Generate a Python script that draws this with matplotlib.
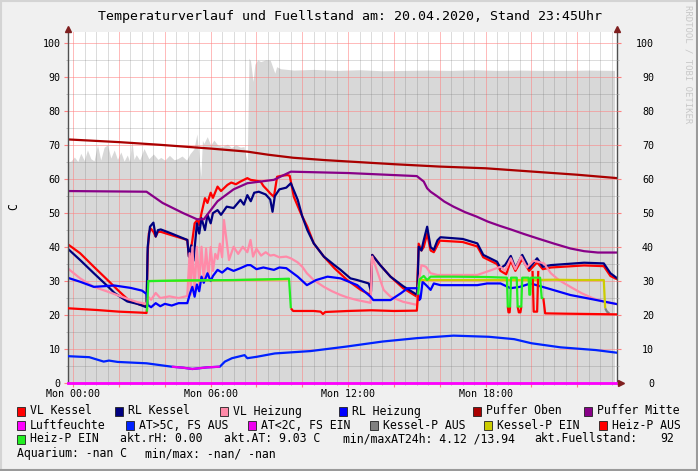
import matplotlib
matplotlib.use('Agg')  # kein GUI
import matplotlib.pyplot as plt
import numpy as np
from matplotlib.patches import Rectangle
from matplotlib.lines import Line2D
from matplotlib.ticker import MultipleLocator

# Zeitachse in Stunden (Mon 00:00 = 0), Werte in C bzw. %
fuel_t = [-0.25, -0.1, 0.05, 0.2, 0.33, 0.48, 0.62, 0.77, 0.91, 1.06,
          1.2, 1.35, 1.5, 1.64, 1.79, 1.93, 2.08, 2.22, 2.36, 2.46,
          2.56, 2.65, 2.75, 2.9, 3.09, 3.3, 3.5, 3.7, 3.82, 4.0,
          4.2, 4.4, 4.55, 4.75, 4.95, 5.1, 5.27, 5.4, 5.49, 5.57,
          5.64, 5.7, 5.85, 6.0, 6.14, 6.3, 6.5, 6.73, 6.9, 7.1,
          7.3, 7.45, 7.6, 7.67, 7.74, 7.85, 7.93, 8.05, 8.18, 8.4,
          8.6, 8.8, 8.88, 9.05, 9.63, 10.5, 11.5, 12.5, 13.5, 14.5,
          15.5, 16.5, 17.5, 18.5, 19.5, 20.5, 21.5, 22.5, 23.63]
fuel_v = [65.1, 65.3, 66.5, 65.2, 67.6, 65.5, 68.6, 66.0, 65.4, 70.1,
          65.6, 69.4, 70.1, 66.2, 68.6, 65.8, 68.0, 65.3, 67.1, 65.2,
          71.5, 65.8, 67.2, 65.6, 69.0, 66.0, 67.4, 65.8, 66.4, 65.6,
          67.0, 65.7, 66.0, 66.8, 65.6, 67.5, 68.9, 73.3, 66.5, 60.7,
          71.5, 70.5, 72.5, 70.0, 71.5, 70.1, 69.6, 70.3, 69.3, 70.1,
          69.4, 69.6, 64.7, 95.6, 94.8, 88.7, 93.8, 95.1, 94.6, 95.1,
          95.0, 91.2, 93.1, 92.5, 92.1, 92.3, 92.0, 92.2, 91.9, 92.0,
          92.1, 92.0, 92.2, 92.0, 92.1, 92.0, 92.0, 92.1, 92.0]

vlk_t = [-0.25, 0.3, 0.9, 1.5, 2.0, 2.4, 2.8, 3.2, 3.25, 3.3, 3.38, 3.5, 3.6, 3.7,
         3.82, 4.25, 4.98, 5.05, 5.13, 5.2, 5.3, 5.42, 5.5, 5.6, 5.75, 5.86, 6.0,
         6.1, 6.3, 6.45, 6.73, 6.9, 7.1, 7.3, 7.6, 7.74, 8.0, 8.18, 8.3, 8.47, 8.6,
         8.76, 8.9, 9.1, 9.35, 9.45, 9.63, 9.93, 10.22, 10.5, 10.94, 11.4, 11.96,
         12.55, 12.98, 13.05, 13.4, 13.85, 14.4, 15.0, 15.08, 15.2, 15.3, 15.45,
         15.6, 15.74, 16.0, 17.0, 17.64, 17.9, 18.5, 18.65, 18.9, 19.1, 19.3, 19.6,
         19.9, 20.25, 20.5, 20.85, 22.3, 23.16, 23.45, 23.75]
vlk_v = [40.9, 38.2, 34.2, 30.3, 27.0, 24.5, 23.3, 22.5, 38.0, 44.0, 45.5, 44.5, 43.1, 44.5,
         44.5, 43.6, 42.1, 37.2, 39.0, 42.0, 47.0, 48.0, 46.5, 50.0, 54.4, 53.0, 56.0,
         54.5, 57.8, 56.5, 58.3, 59.0, 58.5, 59.3, 60.3, 59.8, 59.5, 59.3, 58.0, 56.8, 55.8,
         54.8, 60.7, 61.0, 61.2, 61.0, 54.8, 50.0, 46.0, 41.1, 37.2, 33.8, 30.3,
         27.4, 25.9, 37.7, 34.7, 31.3, 27.9, 25.4, 41.0, 39.0, 40.0, 44.0,
         39.0, 38.5, 41.9, 41.5, 40.2, 37.0, 35.0, 33.0, 32.0, 36.0, 33.0, 36.5,
         33.0, 35.5, 33.5, 34.0, 34.6, 34.4, 31.5, 30.5]

rlk_t = [-0.25, 0.3, 0.9, 1.5, 1.8, 2.36, 2.8, 3.2, 3.25, 3.35, 3.5, 3.6, 3.7, 3.82,
         4.25, 4.98, 5.05, 5.15, 5.25, 5.4, 5.5, 5.6, 5.75, 5.86, 6.0, 6.1, 6.3, 6.45,
         6.7, 7.0, 7.3, 7.45, 7.6, 7.75, 7.9, 8.1, 8.4, 8.6, 8.7, 8.8, 9.0, 9.3, 9.5,
         9.8, 10.0, 10.22, 10.5, 10.94, 11.4, 11.67, 12.1, 12.4, 12.9, 13.0, 13.05,
         13.4, 13.85, 14.4, 15.02, 15.08, 15.2, 15.3, 15.45, 15.6, 15.74, 15.9, 16.03,
         17.0, 17.64, 17.9, 18.5, 18.65, 18.85, 19.1, 19.3, 19.6, 19.9, 20.25, 20.5,
         20.85, 22.3, 23.16, 23.45, 23.75]
rlk_v = [39.6, 36.2, 32.3, 28.5, 26.5, 24.0, 23.3, 22.3, 40.0, 46.0, 47.2, 43.1, 45.0, 45.2,
         44.1, 42.1, 37.2, 40.5, 36.0, 47.0, 44.0, 48.5, 45.0, 49.5, 47.0, 50.0, 50.9, 49.5,
         51.9, 51.5, 53.9, 52.5, 55.3, 53.5, 56.0, 56.3, 55.5, 54.0, 50.4, 55.0, 57.0, 57.5, 58.8,
         53.9, 49.0, 45.0, 41.1, 37.2, 34.7, 33.3, 30.8, 30.3, 29.3, 27.0, 37.7,
         34.7, 31.3, 28.5, 25.9, 40.1, 39.0, 42.0, 46.0, 40.0, 39.2, 42.0, 42.9,
         42.4, 41.1, 37.7, 35.7, 33.8, 34.7, 37.4, 33.8, 37.7, 33.8, 36.7, 34.2,
         34.7, 35.4, 35.2, 32.3, 30.8]

vlh_t = [-0.25, 0.3, 0.9, 1.5, 2.36, 2.8, 3.2, 3.25, 3.4, 3.6, 3.8, 4.2, 4.6, 4.98,
         5.08, 5.13, 5.2, 5.3, 5.4, 5.5, 5.6, 5.7, 5.8, 5.9, 6.0, 6.1, 6.2, 6.3, 6.4,
         6.5, 6.58, 6.8, 7.0, 7.2, 7.4, 7.6, 7.74, 7.85, 8.0, 8.2, 8.4, 8.6, 8.76,
         9.0, 9.3, 9.5, 9.8, 10.0, 10.2, 10.5, 10.94, 11.3, 11.67, 12.0, 12.4, 12.98, 13.05, 13.3, 13.55,
         13.85, 14.4, 15.0, 15.1, 15.2, 15.4, 15.6, 15.9, 17.64, 18.07, 18.65, 18.85,
         19.1, 19.3, 19.55, 19.8, 20.1, 20.55, 20.85, 21.2, 21.7, 22.2, 22.7, 23.2, 23.75]
vlh_v = [33.8, 30.8, 28.3, 26.9, 24.8, 23.8, 23.3, 25.5, 24.5, 26.5, 25.0, 25.5, 25.0, 25.6,
         38.2, 26.0, 40.0, 27.4, 40.1, 29.0, 40.1, 30.0, 39.5, 31.0, 40.0, 33.0, 38.0, 36.5, 41.0,
         37.0, 48.0, 36.2, 40.1, 38.0, 40.1, 38.5, 42.1, 37.2, 39.5, 37.5, 38.5, 37.5, 37.7,
         37.0, 37.2, 36.7, 35.5, 34.2, 32.3, 30.3, 28.3, 27.0, 25.9, 25.1, 24.4, 23.6, 37.2, 32.3, 27.4,
         25.4, 23.9, 23.0, 30.3, 34.7, 34.2, 32.3, 31.8, 31.8, 32.8, 34.2, 33.0,
         36.7, 33.5, 37.2, 34.0, 36.0, 35.2, 32.3, 30.3, 28.3, 26.4, 24.9, 23.9, 23.2]

rlh_t = [-0.25, 0.3, 0.9, 1.8, 2.5, 3.0, 3.2, 3.25, 3.4, 3.6, 3.8, 4.0, 4.3, 4.6, 4.98,
         5.1, 5.2, 5.3, 5.4, 5.5, 5.6, 5.7, 5.86, 6.0, 6.1, 6.3, 6.5, 6.73, 7.0, 7.3,
         7.6, 7.74, 8.0, 8.3, 8.76, 9.0, 9.3, 9.5, 9.8, 10.2, 10.6, 11.1, 11.67, 12.4,
         12.98, 13.1, 13.85, 14.3, 14.6, 15.02, 15.1, 15.16, 15.25, 15.45, 15.6, 15.74,
         16.03, 17.64, 18.07, 18.65, 19.09, 19.5, 19.96, 20.69, 21.7, 22.7, 23.75]
rlh_v = [31.0, 29.8, 28.3, 28.7, 28.0, 27.2, 26.2, 23.0, 22.3, 23.5, 22.6, 23.3, 22.8, 23.5, 23.5,
         26.4, 28.3, 25.4, 29.0, 27.0, 31.3, 29.5, 32.3, 30.0, 31.5, 33.3, 32.5, 33.8, 33.0, 33.8,
         34.7, 34.7, 33.5, 34.0, 33.3, 34.0, 33.8, 32.8, 31.3, 28.8, 30.3, 31.3, 30.8, 28.8,
         25.4, 24.4, 24.4, 26.4, 27.9, 27.9, 24.4, 24.9, 29.8, 28.5, 27.4, 29.3,
         28.8, 28.8, 29.3, 29.3, 27.9, 28.3, 29.3, 27.9, 25.9, 24.6, 23.2]

po_t = [-0.25, 2, 3.8, 6, 7.6, 8.5, 9.6, 11, 12.5, 14, 16, 18, 20.1, 22, 23.75]
po_v = [71.7, 70.9, 70.1, 69.0, 68.1, 67.2, 66.3, 65.6, 65.0, 64.4, 63.7, 63.2, 62.2, 61.3, 60.3]

pm_t = [-0.25, 3.2, 3.9, 4.8, 5.4, 5.7, 6.3, 7.0, 7.6, 8.76, 9.5, 12, 15.0, 15.3, 15.45,
        15.6, 15.9, 16.2, 16.6, 17.1, 17.6, 18.1, 18.6, 19.1, 19.7, 20.25, 21.0, 21.7,
        22.3, 22.9, 23.75]
pm_v = [56.5, 56.3, 53.0, 50.0, 48.2, 48.2, 53.5, 57.0, 58.8, 59.8, 62.2, 61.8, 60.9, 59.3, 57.3,
        56.3, 54.9, 53.4, 51.9, 50.3, 49.0, 47.5, 46.3, 45.2, 43.8, 42.6, 41.0, 39.6,
        38.8, 38.4, 38.4]

rh_t = [-0.25, 23.75]
rh_v = [0.0, 0.0]

at_t = [-0.25, 0.7, 1.33, 1.56, 1.94, 3.2, 3.97, 4.3, 4.8, 5.2, 5.84, 6.4, 6.62, 6.93,
        7.48, 7.6, 8.0, 8.8, 10.36, 11.9, 13.5, 15.0, 16.6, 18.15, 19.25, 20.0, 21.27,
        22.8, 23.75]
at_v = [7.9, 7.6, 6.3, 6.6, 6.2, 5.8, 5.1, 4.8, 4.5, 4.12, 4.6, 4.8, 6.3, 7.3,
        8.2, 7.3, 7.7, 8.7, 9.4, 10.7, 12.2, 13.2, 13.94, 13.6, 12.9, 11.7, 10.5,
        9.7, 8.9]
fs_ein_von, fs_ein_bis = 4.3, 6.4

nan = float('nan')
kp_aus_t = [23.22, 23.3, 23.4]
kp_aus_v = [22.0, 21.0, 20.5]
kp_ein_t = [3.25, 9.45, nan, 15.1, 18.9, 20.0, 21.0, 22.0, 23.16, 23.22]
kp_ein_v = [30.0, 30.5, nan, 30.3, 30.3, 30.3, 30.4, 30.3, 30.3, 22.0]
hp_aus_t = [-0.25, 1.0, 2.0, 3.0, 3.2, 3.22, nan, 9.5, 9.6, 10.5, 10.8, 10.9, 11.0, 12.0,
            13.0, 14.0, 15.0, 15.05, nan, 18.97, 19.0, 19.05, 19.07, nan, 19.4, 19.45,
            19.52, 19.56, nan, 20.05, 20.1, 20.25, 20.3, nan, 20.52, 20.6, 21.5, 23.75]
hp_aus_v = [22.0, 21.5, 21.0, 20.7, 20.6, 22.0, nan, 22.0, 21.2, 21.2, 21.0, 20.3, 20.9, 21.2,
            21.4, 21.2, 21.3, 26.0, nan, 22.5, 20.8, 20.8, 22.5, nan, 22.5, 20.8,
            20.8, 22.5, nan, 33.0, 21.0, 21.0, 33.0, nan, 25.0, 20.5, 20.4, 20.2]
hp_ein_t = [3.22, 3.28, 5.0, 7.0, 9.0, 9.42, 9.5, nan, 15.05, 15.12, 15.3, 15.45, 15.6,
            16.5, 18.0, 18.93, 18.97, 19.07, 19.11, 19.36, 19.4, 19.56, 19.6, 19.88,
            19.91, 19.95, 19.98, 20.38, 20.45, 20.52]
hp_ein_v = [21.0, 30.0, 30.2, 30.3, 30.6, 30.7, 22.0, nan, 26.0, 30.5, 31.5, 30.3, 31.3,
            31.3, 31.2, 31.0, 22.5, 22.5, 31.0, 31.0, 22.5, 22.5, 31.0, 31.0,
            26.0, 26.0, 31.0, 31.0, 25.0, 25.0]

x_major = [0, 2, 4, 6, 8, 10, 12, 14, 16, 18, 20, 22]
x_labels = ['Mon 00:00', '', '', 'Mon 06:00', '', '', 'Mon 12:00', '', '', 'Mon 18:00', '', '']
y_major = [0, 10, 20, 30, 40, 50, 60, 70, 80, 90, 100]

titel = 'Temperaturverlauf und Fuellstand am: 20.04.2020, Stand 23:45Uhr'

legende = [
    [('VL Kessel', '#ff0000'), ('RL Kessel', '#000080'), ('VL Heizung', '#ff8aa8'),
     ('RL Heizung', '#0000ff'), ('Puffer Oben', '#aa0000'), ('Puffer Mitte', '#880088')],
    [('Luftfeuchte', '#ff00ff'), ('AT>5C, FS AUS', '#0022ff'), ('AT<2C, FS EIN', '#ee00ee'),
     ('Kessel-P AUS', '#808080'), ('Kessel-P EIN', '#cccc00'), ('Heiz-P AUS', '#ff0000')],
]
leg_x = [[17, 115, 220, 339, 473, 584], [17, 125.6, 248, 370.4, 484, 599]]
info_texte = [('akt.rH: 0.00', 120), ('akt.AT: 9.03 C', 224),
              ('min/maxAT24h: 4.12 /13.94', 343), ('akt.Fuellstand:', 534), ('92', 660)]

plt.rcParams['font.family'] = 'DejaVu Sans Mono'

W, H = 698, 471
fig = plt.figure(figsize=(W / 100, H / 100), dpi=100, facecolor='#f0f0f0')
ax = fig.add_axes([67.5 / W, 1 - 383 / H, (617.3 - 67.5) / W, (383 - 31.7) / H])
ax.set_facecolor('white')
ax.set_xlim(-0.25, 23.75)
ax.set_ylim(0, 103.4)

ax.fill_between(fuel_t, fuel_v, 0, color='#d8d8d8', lw=0, zorder=1)

lw = 1.6
kw = dict(lw=lw, solid_joinstyle='round', solid_capstyle='butt')
ax.plot(vlk_t, vlk_v, color='#ff0000', zorder=2.0, **kw)
ax.plot(rlk_t, rlk_v, color='#000080', zorder=2.1, **kw)
ax.plot(vlh_t, vlh_v, color='#ff8aa8', zorder=2.2, **kw)
ax.plot(rlh_t, rlh_v, color='#0000ff', zorder=2.3, **kw)
ax.plot(po_t, po_v, color='#aa0000', zorder=2.4, **kw)
ax.plot(pm_t, pm_v, color='#880088', zorder=2.5, **kw)
ax.plot(rh_t, rh_v, color='#ff00ff', zorder=3.5, clip_on=False, lw=2)

at_t_a = np.array(at_t)
at_v_a = np.array(at_v)
kalt = (at_t_a >= fs_ein_von) & (at_t_a <= fs_ein_bis)
ax.plot(at_t_a, at_v_a, color='#0022ff', zorder=2.6, **kw)
ax.plot(at_t_a[kalt], at_v_a[kalt], color='#ee00ee', zorder=2.7, **kw)

ax.plot(kp_aus_t, kp_aus_v, color='#808080', zorder=2.8, **kw)
ax.plot(kp_ein_t, kp_ein_v, color='#cccc00', zorder=2.9, **kw)
ax.plot(hp_aus_t, hp_aus_v, color='#ff0000', zorder=3.0, **kw)
ax.plot(hp_ein_t, hp_ein_v, color='#22ee22', zorder=3.1, **kw)

# Raster wie rrdtool
ax.set_xticks(x_major, x_labels)
ax.xaxis.set_minor_locator(MultipleLocator(0.5))
ax.set_yticks(y_major, [str(v) for v in y_major])
ax.yaxis.set_minor_locator(MultipleLocator(5))
ax.grid(which='major', color='#ff8080', alpha=0.55, lw=0.7)
ax.grid(which='minor', color='#707070', alpha=0.25, lw=0.7)
ax.set_axisbelow('line')
ax.tick_params(which='major', length=3, color='#ff8080', labelsize=7.2, pad=2)
ax.tick_params(which='minor', length=1.5, color='#b0b0b0')
ax.tick_params(axis='x', which='major', pad=1.3)
ax.spines['top'].set_visible(False)
for s in ['left', 'right', 'bottom']:
    ax.spines[s].set_color('#505050')
    ax.spines[s].set_linewidth(1)

ax2 = ax.twinx()
ax2.set_ylim(ax.get_ylim())
ax2.set_yticks(y_major, [str(v) for v in y_major], ha='right')
ax2.yaxis.set_minor_locator(MultipleLocator(5))
ax2.tick_params(which='major', length=3, color='#ff8080', labelsize=7.2, pad=23.4)
ax2.tick_params(which='minor', length=1.5, color='#b0b0b0')
for s in ax2.spines.values():
    s.set_visible(False)

# Pfeile an den Achsen
pfeil = dict(ls='none', color='#7f1f1f', ms=5, transform=fig.transFigure, clip_on=False)
fig.add_artist(Line2D([67.7 / W], [1 - 28.5 / H], marker='^', **pfeil))
fig.add_artist(Line2D([617.3 / W], [1 - 28.5 / H], marker='^', **pfeil))
fig.add_artist(Line2D([620.5 / W], [1 - 383 / H], marker='>', **pfeil))

fig.text(350 / W, 1 - 16.5 / H, titel, ha='center', va='center', fontsize=9.5)
fig.text(14 / W, 1 - 207 / H, 'C', rotation=90, ha='center', va='center', fontsize=8.3)
fig.text(688 / W, 1 - 5 / H, 'RRDTOOL / TOBI OETIKER', rotation=270, ha='center', va='top',
         fontsize=6.5, color='#c8c8c8')

# Legende
zeilen_y = [411, 425.3, 439, 453.7]


def swatch(x, y, farbe):
    fig.add_artist(Rectangle((x / W, 1 - (y + 4.5) / H), 8 / W, 9 / H, transform=fig.transFigure,
                             facecolor=farbe, edgecolor='#202020', lw=0.6))


for zi, zeile in enumerate(legende):
    for (name, farbe), x in zip(zeile, leg_x[zi]):
        swatch(x, zeilen_y[zi], farbe)
        fig.text((x + 13) / W, 1 - zeilen_y[zi] / H, name, ha='left', va='center', fontsize=8.3)

swatch(17, zeilen_y[2], '#22ee22')
fig.text(30 / W, 1 - zeilen_y[2] / H, 'Heiz-P EIN', ha='left', va='center', fontsize=8.3)
for txt, x in info_texte:
    fig.text(x / W, 1 - zeilen_y[2] / H, txt, ha='left', va='center', fontsize=8.3)
fig.text(17 / W, 1 - zeilen_y[3] / H, 'Aquarium: -nan C', ha='left', va='center', fontsize=8.3)
fig.text(144.7 / W, 1 - zeilen_y[3] / H, 'min/max: -nan/ -nan', ha='left', va='center', fontsize=8.3)

# 3D-Rahmen
rahmen = dict(transform=fig.transFigure, lw=1.5)
fig.add_artist(Line2D([0, 1], [1 - 0.75 / H, 1 - 0.75 / H], color='#d4d4d4', **rahmen))
fig.add_artist(Line2D([0.75 / W, 0.75 / W], [0, 1], color='#d4d4d4', **rahmen))
fig.add_artist(Line2D([0, 1], [0.75 / H, 0.75 / H], color='#9a9a9a', **rahmen))
fig.add_artist(Line2D([1 - 0.75 / W, 1 - 0.75 / W], [0, 1], color='#9a9a9a', **rahmen))

fig.savefig('out.png', dpi=100, facecolor=fig.get_facecolor())
plt.close(fig)
